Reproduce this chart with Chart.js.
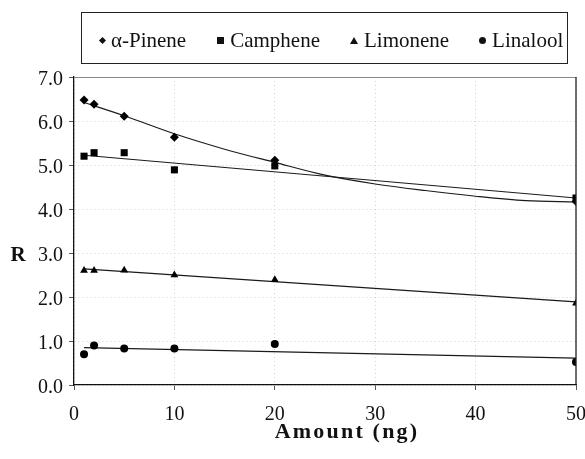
<!DOCTYPE html>
<html>
<head>
<meta charset="utf-8">
<script src="https://cdn.jsdelivr.net/npm/chart.js@4/dist/chart.umd.min.js"></script>
<style>
  html, body { margin: 0; padding: 0; background: #fff; }
  #wrap { position: relative; width: 585px; height: 459px; }
  #legend {
    position: absolute; left: 81px; top: 12px; width: 487px; height: 52px;
    border: 1.5px solid #222; display: flex; align-items: center;
    padding-left: 17px; padding-top: 5px; box-sizing: border-box;
    font-family: "Liberation Serif", "Times New Roman", serif; font-size: 21px; color: #111;
    white-space: nowrap; overflow: hidden;
  }
  .item { display: flex; align-items: center; margin-right: 30px; }
  .item:first-child { margin-right: 31px; }
  .mk { display: inline-block; margin-right: 6px; background: #111; }
  .mk.rectRot { width: 5px; height: 5px; transform: rotate(45deg); margin-left: 1px; margin-right: 6px; }
  .mk.rect { width: 7px; height: 7px; }
  .mk.triangle { width: 0; height: 0; background: none; border-left: 4px solid transparent; border-right: 4px solid transparent; border-bottom: 7px solid #111; }
  .mk.circle { width: 7px; height: 7px; border-radius: 50%; }
  canvas { position: absolute; left: 0; top: 0; }
</style>
</head>
<body>
<div id="wrap">
  <canvas id="c" width="585" height="459"></canvas>
  <div id="legend"></div>
</div>
<script>
// ---- data ----
const amounts = [1, 2, 5, 10, 20, 50];
const seriesNames = ["\u03B1-Pinene", "Camphene", "Limonene", "Linalool"];
const pinene   = [6.48, 6.38, 6.11, 5.63, 5.11, 4.17];
const camphene = [5.20, 5.28, 5.28, 4.89, 4.98, 4.25];
const limonene = [2.60, 2.60, 2.61, 2.50, 2.39, 1.86];
const linalool = [0.70, 0.90, 0.83, 0.83, 0.93, 0.52];
// trend lines
const pineneFitX = [1, 5, 10, 15, 20, 25, 30, 35, 40, 45, 50];
const pineneFit  = [6.42, 6.12, 5.71, 5.36, 5.06, 4.77, 4.57, 4.42, 4.29, 4.19, 4.16];
const linFitX    = [1, 50];
const camphFit   = [5.22, 4.25];
const limoFit    = [2.64, 1.89];
const linaFit    = [0.85, 0.61];
const xTicks = [0, 10, 20, 30, 40, 50];
const yTicks = [0, 1, 2, 3, 4, 5, 6, 7];
const xTitle = "Amount (ng)";
const yTitle = "R";

const pointStyles = ["rectRot", "rect", "triangle", "circle"];
const pointRadii = [4.5, 5, 4.5, 4];
const values = [pinene, camphene, limonene, linalool];
const fits = [[pineneFitX, pineneFit], [linFitX, camphFit], [linFitX, limoFit], [linFitX, linaFit]];

const toXY = (xs, ys) => xs.map((x, i) => ({ x: x, y: ys[i] }));

const datasets = [];
fits.forEach((f, i) => {
  datasets.push({
    type: 'line', label: seriesNames[i] + ' fit', data: toXY(f[0], f[1]),
    borderColor: '#1a1a1a', borderWidth: 1.1, pointRadius: 0, fill: false,
    cubicInterpolationMode: 'monotone', order: 2
  });
});
values.forEach((v, i) => {
  datasets.push({
    type: 'scatter', label: seriesNames[i], data: toXY(amounts, v),
    pointStyle: pointStyles[i], pointRadius: pointRadii[i], pointHoverRadius: pointRadii[i],
    backgroundColor: '#000', borderColor: '#000', borderWidth: 0, showLine: false, order: 1
  });
});

// legend (HTML)
const lg = document.getElementById('legend');
seriesNames.forEach((n, i) => {
  const it = document.createElement('span'); it.className = 'item';
  const mk = document.createElement('span'); mk.className = 'mk ' + pointStyles[i];
  const tx = document.createElement('span'); tx.textContent = n;
  it.appendChild(mk); it.appendChild(tx); lg.appendChild(it);
});

const frame = {
  id: 'frame',
  afterDraw(chart) {
    const { ctx, chartArea: a } = chart;
    ctx.save();
    ctx.lineWidth = 1;
    ctx.strokeStyle = '#888';
    ctx.beginPath(); ctx.moveTo(a.left, a.top + 0.5); ctx.lineTo(a.right, a.top + 0.5); ctx.stroke();
    ctx.strokeStyle = '#222';
    ctx.lineWidth = 1.3;
    ctx.beginPath(); ctx.moveTo(a.right, a.top); ctx.lineTo(a.right, a.bottom); ctx.stroke();
    // upright y-axis title
    ctx.fillStyle = '#111';
    ctx.font = 'bold 21px "Liberation Serif", serif';
    ctx.textAlign = 'center'; ctx.textBaseline = 'alphabetic';
    ctx.fillText(yTitle, 18, a.top + (a.bottom - a.top) * 0.596);
    // x-axis title (wide-set as in the reference)
    ctx.font = 'bold 22px "Liberation Serif", serif';
    try { ctx.letterSpacing = '2.2px'; } catch (e) {}
    ctx.fillText(xTitle, (a.left + a.right) / 2 + 22, a.bottom + 53);
    ctx.restore();
  }
};

const tickFont = { family: '"Liberation Serif", serif', size: 20 };
new Chart(document.getElementById('c'), {
  data: { datasets },
  options: {
    responsive: false, animation: false,
    layout: { padding: { top: 77, right: 9, left: 0, bottom: 0 } },
    plugins: { legend: { display: false }, tooltip: { enabled: false } },
    scales: {
      x: {
        type: 'linear', min: 0, max: 50,
        afterFit: s => { s.height = 74; s.paddingLeft = 0; s.paddingRight = 0; },
        afterBuildTicks: s => { s.ticks = xTicks.map(v => ({ value: v })); },
        ticks: { font: tickFont, color: '#111', padding: 13, maxRotation: 0 },
        grid: { color: '#d0d0d0', tickColor: '#555', tickLength: 5, tickBorderDash: [] },
        border: { color: '#111', width: 1.3, dash: [1, 3] },
        title: { display: false }
      },
      y: {
        type: 'linear', min: 0, max: 7,
        afterFit: s => { s.width = 74; s.paddingTop = 0; s.paddingBottom = 0; },
        afterBuildTicks: s => { s.ticks = yTicks.map(v => ({ value: v })); },
        ticks: { font: tickFont, color: '#111', padding: 6, labelOffset: 3, callback: v => Number(v).toFixed(1) },
        grid: { color: '#d0d0d0', tickColor: '#555', tickLength: 5, tickBorderDash: [] },
        border: { color: '#111', width: 1.3, dash: [1, 3] }
      }
    }
  },
  plugins: [frame]
});
</script>
</body>
</html>
